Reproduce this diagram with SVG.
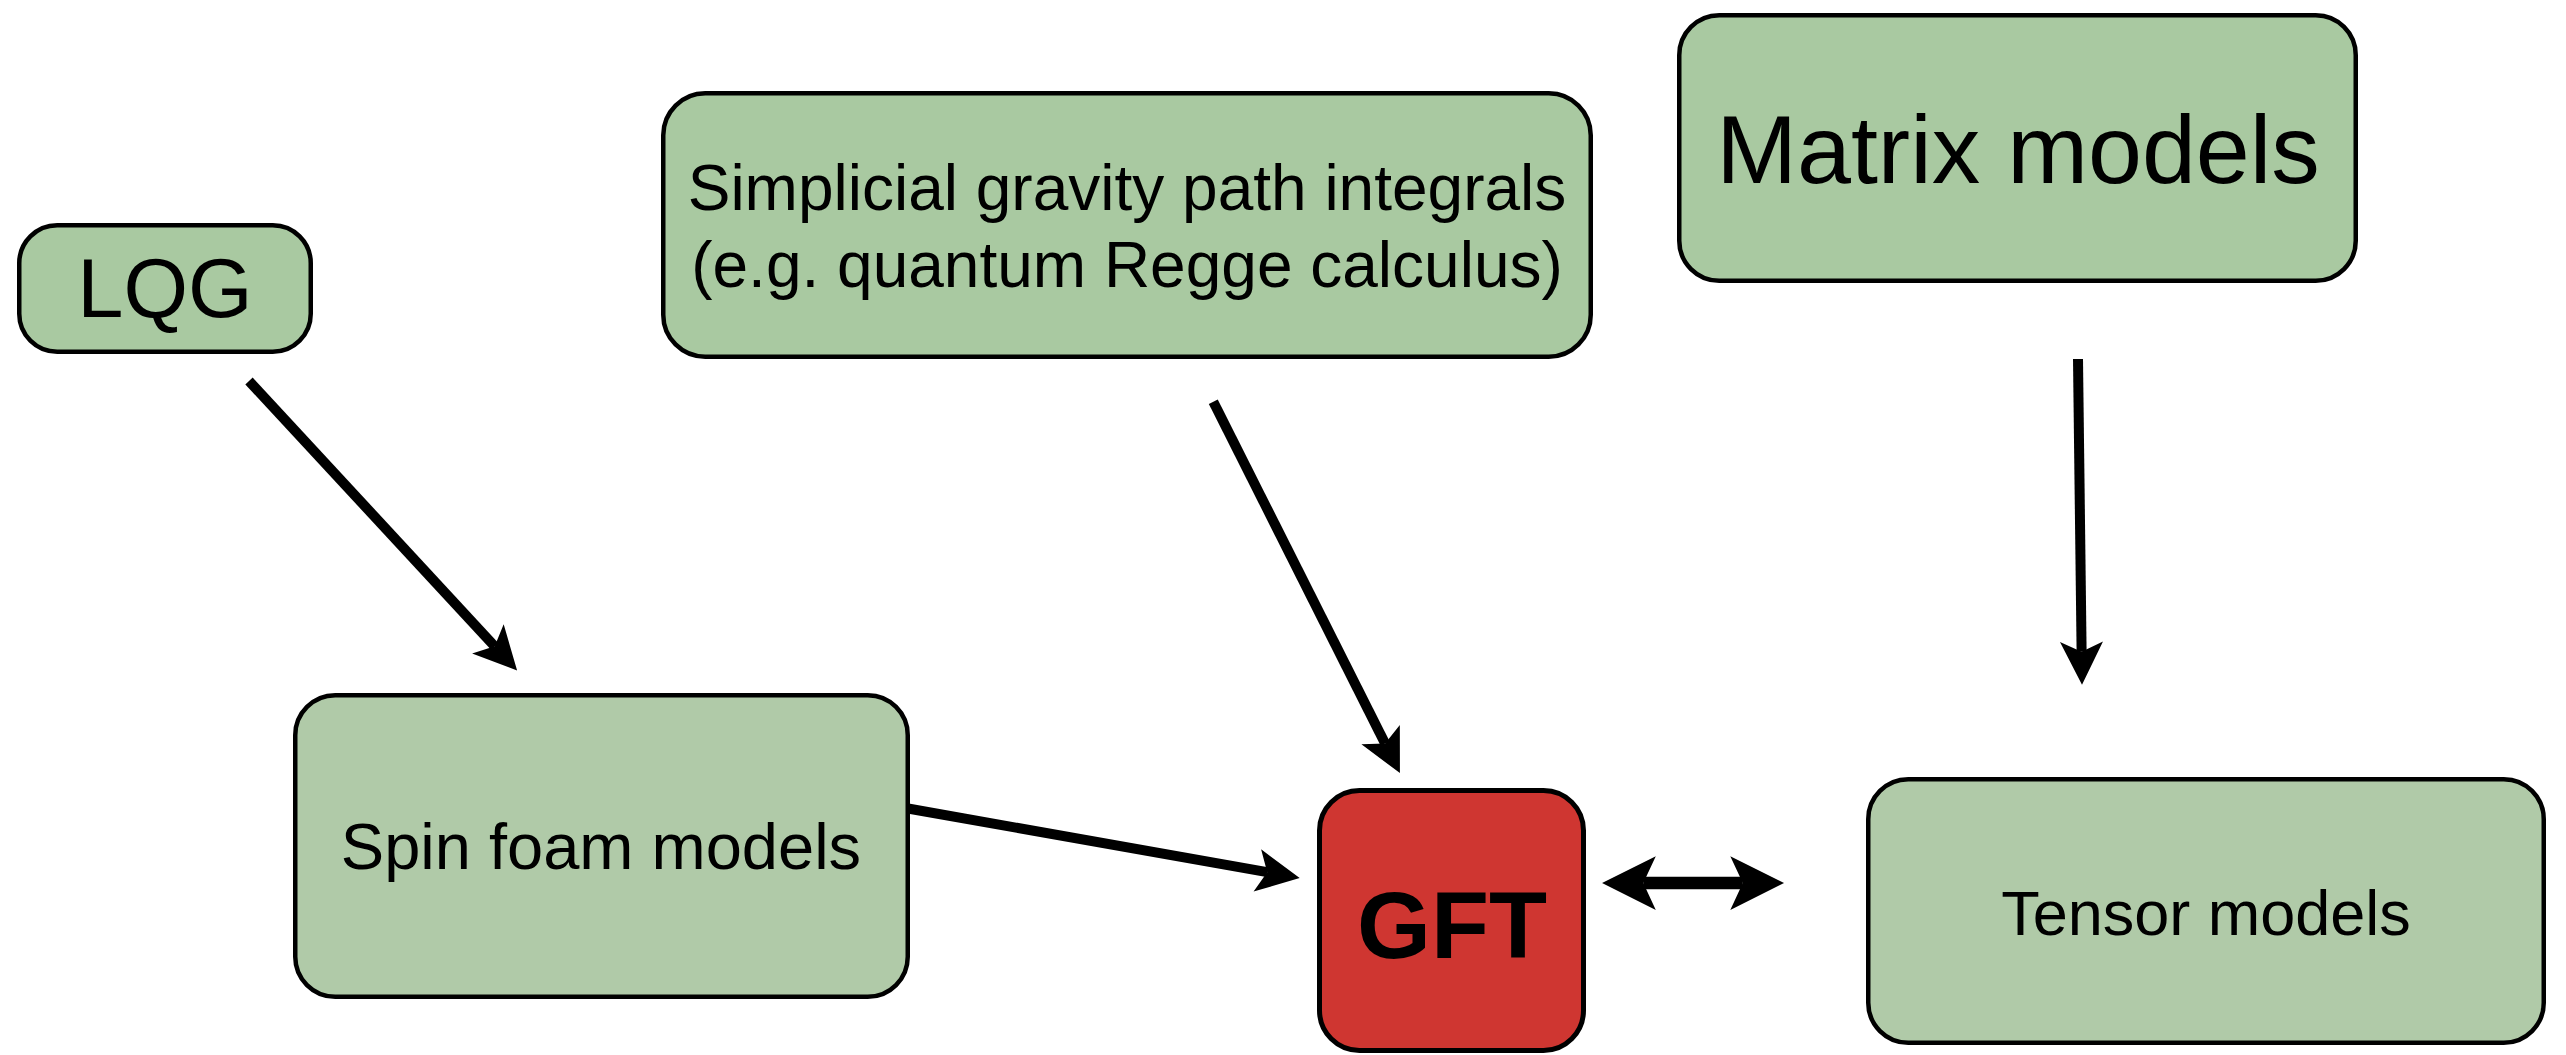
<svg xmlns="http://www.w3.org/2000/svg" width="2566" height="1055" viewBox="0 0 2566 1055">
<style>
  .box { stroke: #000; stroke-width: 4.5; }
  .g1 { fill: #a9c9a1; }
  .g2 { fill: #b0caa8; }
  .red { fill: #cf3631; stroke-width: 5; }
  text { font-family: "Liberation Sans", Arial, Helvetica, sans-serif; fill: #000; text-anchor: middle; }
  .conn { stroke: #000; fill: none; stroke-width: 10; stroke-linecap: butt; marker-end: url(#ah); }
  .both { stroke-width: 12.5; marker-start: url(#ah); }
</style>
<defs>
  <marker id="ah" viewBox="-1.1 -2.3 4.6 4.6" refX="0" refY="0" markerWidth="4.6" markerHeight="4.6" markerUnits="strokeWidth" orient="auto-start-reverse">
    <path d="M3.3,0 L-1,-2.15 L0,0 L-1,2.15 Z" fill="#000"/>
  </marker>
</defs>
<rect width="2566" height="1055" fill="#fff"/>

<g id="node-lqg">
  <rect class="box g1" x="19.25" y="225.25" width="291.5" height="126.5" rx="38"/>
  <text x="165" y="317" font-size="83">LQG</text>
</g>
<g id="node-simplicial">
  <rect class="box g1" x="663.25" y="93.25" width="927.5" height="263.5" rx="42"/>
  <text x="1127" y="210" font-size="64">Simplicial gravity path integrals</text>
  <text x="1127" y="287" font-size="64">(e.g. quantum Regge calculus)</text>
</g>
<g id="node-matrix">
  <rect class="box g1" x="1679.25" y="15.25" width="676.5" height="265.5" rx="40"/>
  <text x="2018" y="183" font-size="97">Matrix models</text>
</g>
<g id="node-spinfoam">
  <rect class="box g2" x="295.25" y="695.25" width="612.5" height="301.5" rx="40"/>
  <text x="601" y="869" font-size="65">Spin foam models</text>
</g>
<g id="node-gft">
  <rect class="box red" x="1319.5" y="790.5" width="264" height="260" rx="40"/>
  <text x="1452" y="958" font-size="95" font-weight="bold">GFT</text>
</g>
<g id="node-tensor">
  <rect class="box g2" x="1868.25" y="779.25" width="675.5" height="263.5" rx="40"/>
  <text x="2206" y="935" font-size="63">Tensor models</text>
</g>

<g id="connectors">
  <line class="conn" x1="249" y1="381" x2="494.7" y2="646.3"/>
  <line class="conn" x1="1213.3" y1="401.7" x2="1385.1" y2="743.6"/>
  <line class="conn" x1="2078" y1="359" x2="2081.6" y2="651.7"/>
  <line class="conn" x1="908" y1="808.5" x2="1267.2" y2="872.2"/>
  <line class="conn both" x1="1643.3" y1="883" x2="1742.8" y2="883"/>
</g>
</svg>
